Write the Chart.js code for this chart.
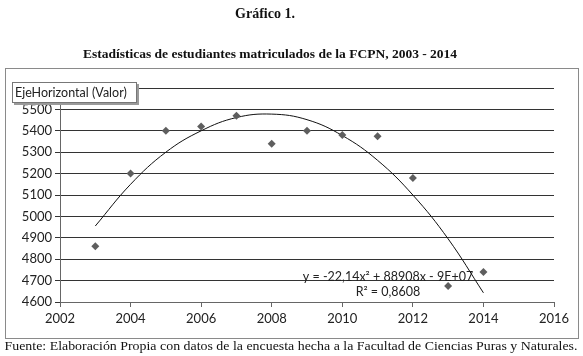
<!DOCTYPE html>
<html><head><meta charset="utf-8">
<script src="https://cdn.jsdelivr.net/npm/chart.js@4.4.1/dist/chart.umd.min.js"></script>
<style>html,body{margin:0;padding:0;background:#fff;}#wrap{width:583px;height:356px;position:relative;}</style>
</head><body><div id="wrap"><canvas id="c" width="583" height="356"></canvas></div>
<script>
const years = [2003,2004,2005,2006,2007,2008,2009,2010,2011,2012,2013,2014];
const students = [4860,5200,5400,5420,5470,5340,5400,5380,5375,5180,4675,4740];
const trendValues = [4955,5150,5300,5400,5462,5478,5452,5378,5262,5100,4895,4643];
const xMin = 2002, xMax = 2016, xStep = 2;
const yMin = 4600, yMax = 5600, yStep = 100;
const title1 = 'Gráfico 1.';
const title2 = 'Estadísticas de estudiantes matriculados de la FCPN, 2003 - 2014';
const footer = 'Fuente: Elaboración Propia con datos de la encuesta hecha a la Facultad de Ciencias Puras y Naturales.';
const eqText = 'y = -22,14x² + 88908x - 9E+07';
const r2Text = 'R² = 0,8608';
const axisTitle = 'EjeHorizontal (Valor)';

const deco = {
  id: 'deco',
  beforeDraw(chart) {
    const ctx = chart.ctx;
    ctx.save();
    ctx.fillStyle = '#fff';
    ctx.fillRect(0,0,chart.width,chart.height);
    ctx.strokeStyle = '#8a8a8a';
    ctx.lineWidth = 1;
    ctx.strokeRect(5.5, 68.5, 573, 270);
    ctx.restore();
  },
  afterDraw(chart) {
    const ctx = chart.ctx;
    ctx.save();
    ctx.fillStyle = '#111';
    ctx.textAlign = 'center';
    ctx.textBaseline = 'middle';
    ctx.font = 'bold 14px "Liberation Serif"';
    ctx.fillText(title1, 265, 14);
    ctx.font = 'bold 13.5px "Liberation Serif"';
    ctx.fillText(title2, 270, 55);
    ctx.font = '13px "Liberation Serif"';
    const w = ctx.measureText(footer).width;
    ctx.save();
    ctx.translate(291, 347);
    ctx.scale(573 / w, 1);
    ctx.fillText(footer, 0, 0);
    ctx.restore();
    // equation
    ctx.font = '12.5px Lato';
    ctx.fillStyle = '#222';
    ctx.fillText(eqText, 388, 277);
    ctx.fillText(r2Text, 388, 292);
    // axis title box
    ctx.fillStyle = '#9a9a9a';
    ctx.fillRect(14, 84, 125, 21);
    ctx.fillStyle = '#fff';
    ctx.fillRect(12, 82, 124, 20);
    ctx.strokeStyle = '#777';
    ctx.strokeRect(12.5, 82.5, 124, 20);
    ctx.fillStyle = '#222';
    ctx.textAlign = 'left';
    ctx.font = '12.5px Lato';
    ctx.fillText(axisTitle, 15, 93);
    ctx.restore();
  }
};

new Chart(document.getElementById('c'), {
  type: 'scatter',
  data: {
    datasets: [
      {
        label: 'Matriculados',
        data: years.map((y,i)=>({x:y, y:students[i]})),
        pointStyle: 'rectRot',
        pointRadius: 4,
        backgroundColor: '#5e5e5e',
        borderColor: '#5e5e5e',
        borderWidth: 0,
        showLine: false,
        order: 1
      },
      {
        label: 'Tendencia',
        data: years.map((y,i)=>({x:y, y:trendValues[i]})),
        showLine: true,
        pointRadius: 0,
        borderColor: '#111',
        borderWidth: 1,
        tension: 0.4,
        fill: false,
        order: 2
      }
    ]
  },
  options: {
    responsive: false,
    animation: false,
    events: [],
    layout: { padding: { left: 20, right: 29, top: 88, bottom: 24 } },
    plugins: { legend: { display: false }, tooltip: { enabled: false } },
    scales: {
      x: {
        type: 'linear', min: xMin, max: xMax,
        afterFit(s){ s.height = 30; },
        ticks: { stepSize: xStep, color: '#222', font: { family: 'Lato', size: 13 }, padding: 4,
                 callback: v => String(v) },
        grid: { drawOnChartArea: false, drawTicks: true, tickLength: 5, color: '#666' },
        border: { display: true, color: '#666' }
      },
      y: {
        type: 'linear', min: yMin, max: yMax,
        afterFit(s){ s.width = 40; },
        ticks: { stepSize: yStep, color: '#222', font: { family: 'Lato', size: 13 }, padding: 3,
                 callback: v => String(v) },
        grid: { drawOnChartArea: true, drawTicks: true, tickLength: 5, color: '#333' },
        border: { display: true, color: '#666' }
      }
    }
  },
  plugins: [deco]
});
</script></body></html>
